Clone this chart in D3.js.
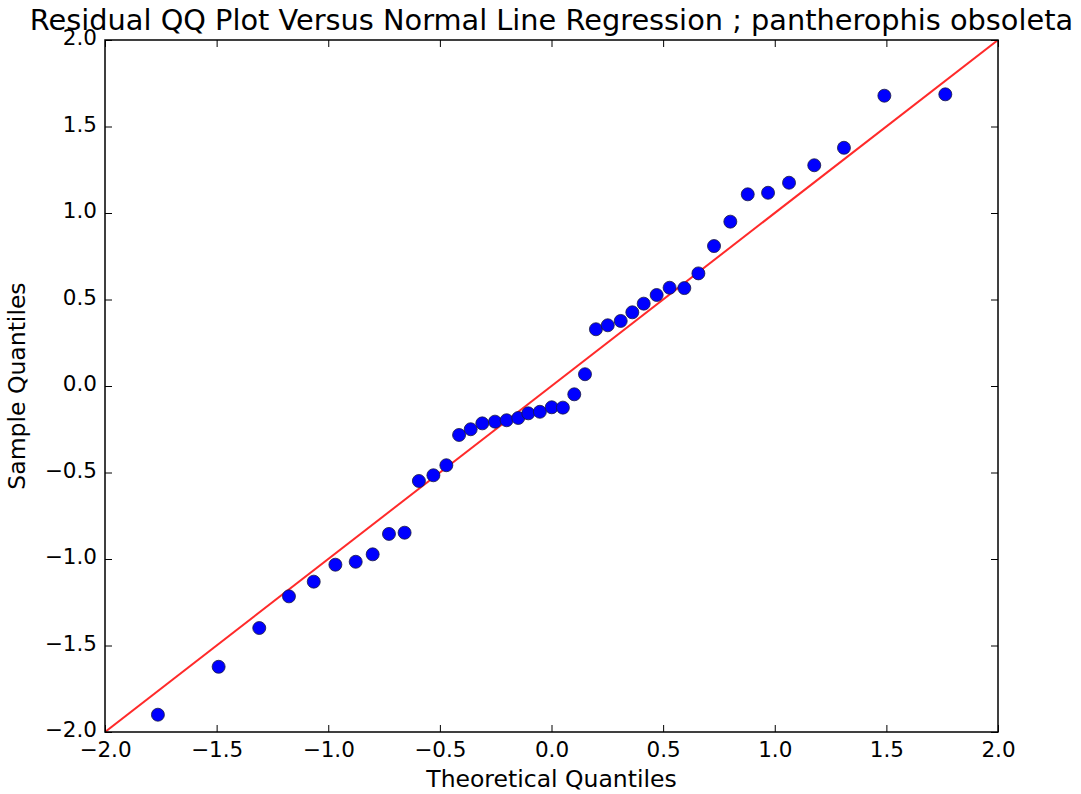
<!DOCTYPE html>
<html>
<head>
<meta charset="utf-8">
<script src="https://cdn.jsdelivr.net/npm/d3@7"></script>
<style>
  html, body { margin: 0; padding: 0; background: #fff; }
  svg { display: block; font-family: "DejaVu Sans", sans-serif; }
</style>
</head>
<body>
<svg id="chart" width="1081" height="794"></svg>
<script>
// Theoretical normal quantiles (x) and ordered residuals (y)
const theoretical = [
  -1.763, -1.491, -1.309, -1.176, -1.065, -0.968, -0.877, -0.801, -0.728, -0.658,
  -0.594, -0.529, -0.471, -0.414, -0.362, -0.310, -0.253, -0.201, -0.149, -0.104,
  -0.052, 0.001, 0.051, 0.102, 0.150, 0.199, 0.252, 0.310, 0.362, 0.413,
  0.471, 0.529, 0.595, 0.658, 0.728, 0.801, 0.879, 0.970, 1.064, 1.177,
  1.310, 1.491, 1.764
];
const sample = [
  -1.900, -1.623, -1.399, -1.216, -1.131, -1.033, -1.016, -0.973, -0.855, -0.848,
  -0.549, -0.516, -0.458, -0.283, -0.250, -0.216, -0.206, -0.198, -0.185, -0.158,
  -0.149, -0.123, -0.125, -0.048, 0.068, 0.328, 0.351, 0.376, 0.426, 0.476,
  0.526, 0.568, 0.566, 0.651, 0.809, 0.950, 1.108, 1.117, 1.175, 1.276,
  1.377, 1.678, 1.686
];
// Reference line endpoints (45-degree normal line)
const refLine = [[-2, -2], [2, 2]];
const xTicks = [-2.0, -1.5, -1.0, -0.5, 0.0, 0.5, 1.0, 1.5, 2.0];
const yTicks = [-2.0, -1.5, -1.0, -0.5, 0.0, 0.5, 1.0, 1.5, 2.0];
const titleText = "Residual QQ Plot Versus Normal Line Regression ; pantherophis obsoleta";
const xLabel = "Theoretical Quantiles";
const yLabel = "Sample Quantiles";

const svg = d3.select("#chart");
const plotLeft = 105, plotRight = 998, plotTop = 40, plotBottom = 732;

const x = d3.scaleLinear().domain([-2, 2]).range([plotLeft, plotRight]);
const y = d3.scaleLinear().domain([-2, 2]).range([plotBottom, plotTop]);

const fmt = v => d3.format(".1f")(v).replace("-", "\u2212");
const tickLen = 7;
const tickFont = "21.5px";
const labelFont = "23.5px";

// Clip region for the plotted data
svg.append("clipPath").attr("id", "plotClip")
  .append("rect").attr("x", plotLeft).attr("y", plotTop)
  .attr("width", plotRight - plotLeft).attr("height", plotBottom - plotTop);

const plot = svg.append("g").attr("clip-path", "url(#plotClip)");

// Reference line
plot.append("path")
  .datum(refLine)
  .attr("d", d3.line().x(d => x(d[0])).y(d => y(d[1])))
  .attr("stroke", "#ff2a2a")
  .attr("stroke-width", 2)
  .attr("fill", "none");

// Sample points
plot.selectAll("circle.pt")
  .data(theoretical.map((t, i) => [t, sample[i]]))
  .join("circle")
  .attr("class", "pt")
  .attr("cx", d => x(d[0]))
  .attr("cy", d => y(d[1]))
  .attr("r", 6.5)
  .attr("fill", "#0000ff")
  .attr("stroke", "#1a1a40")
  .attr("stroke-width", 0.8);

// Axes: inward ticks on all four sides
const axisBottom = d3.axisBottom(x).tickValues(xTicks).tickFormat(fmt).tickSizeInner(-tickLen).tickSizeOuter(0).tickPadding(10);
const axisTop = d3.axisTop(x).tickValues(xTicks).tickFormat("").tickSizeInner(-tickLen).tickSizeOuter(0);
const axisLeft = d3.axisLeft(y).tickValues(yTicks).tickFormat(fmt).tickSizeInner(-tickLen).tickSizeOuter(0).tickPadding(8);
const axisRight = d3.axisRight(y).tickValues(yTicks).tickFormat("").tickSizeInner(-tickLen).tickSizeOuter(0);

function styleAxis(g) {
  g.select(".domain").remove();
  g.selectAll(".tick line").attr("stroke", "#000").attr("stroke-width", 1);
  g.selectAll(".tick text")
    .attr("fill", "#000")
    .style("font-family", "'DejaVu Sans', sans-serif")
    .style("font-size", tickFont);
}

svg.append("g").attr("transform", `translate(0,${plotBottom})`).call(axisBottom).call(styleAxis);
svg.append("g").attr("transform", `translate(0,${plotTop})`).call(axisTop).call(styleAxis);
svg.append("g").attr("transform", `translate(${plotLeft},0)`).call(axisLeft).call(styleAxis)
  .selectAll(".tick text").attr("dy", "0.22em");
svg.append("g").attr("transform", `translate(${plotRight},0)`).call(axisRight).call(styleAxis);

// Frame
svg.append("rect")
  .attr("x", plotLeft).attr("y", plotTop)
  .attr("width", plotRight - plotLeft).attr("height", plotBottom - plotTop)
  .attr("fill", "none").attr("stroke", "#000").attr("stroke-width", 1.5);

// Title and axis labels
svg.append("text")
  .attr("x", (plotLeft + plotRight) / 2).attr("y", 30)
  .attr("text-anchor", "middle")
  .style("font-size", "28.8px")
  .attr("fill", "#000")
  .text(titleText);

svg.append("text")
  .attr("x", (plotLeft + plotRight) / 2).attr("y", 787)
  .attr("text-anchor", "middle")
  .style("font-size", labelFont)
  .attr("fill", "#000")
  .text(xLabel);

svg.append("text")
  .attr("transform", `translate(25,${(plotTop + plotBottom) / 2}) rotate(-90)`)
  .attr("text-anchor", "middle")
  .style("font-size", labelFont)
  .attr("fill", "#000")
  .text(yLabel);
</script>
</body>
</html>
